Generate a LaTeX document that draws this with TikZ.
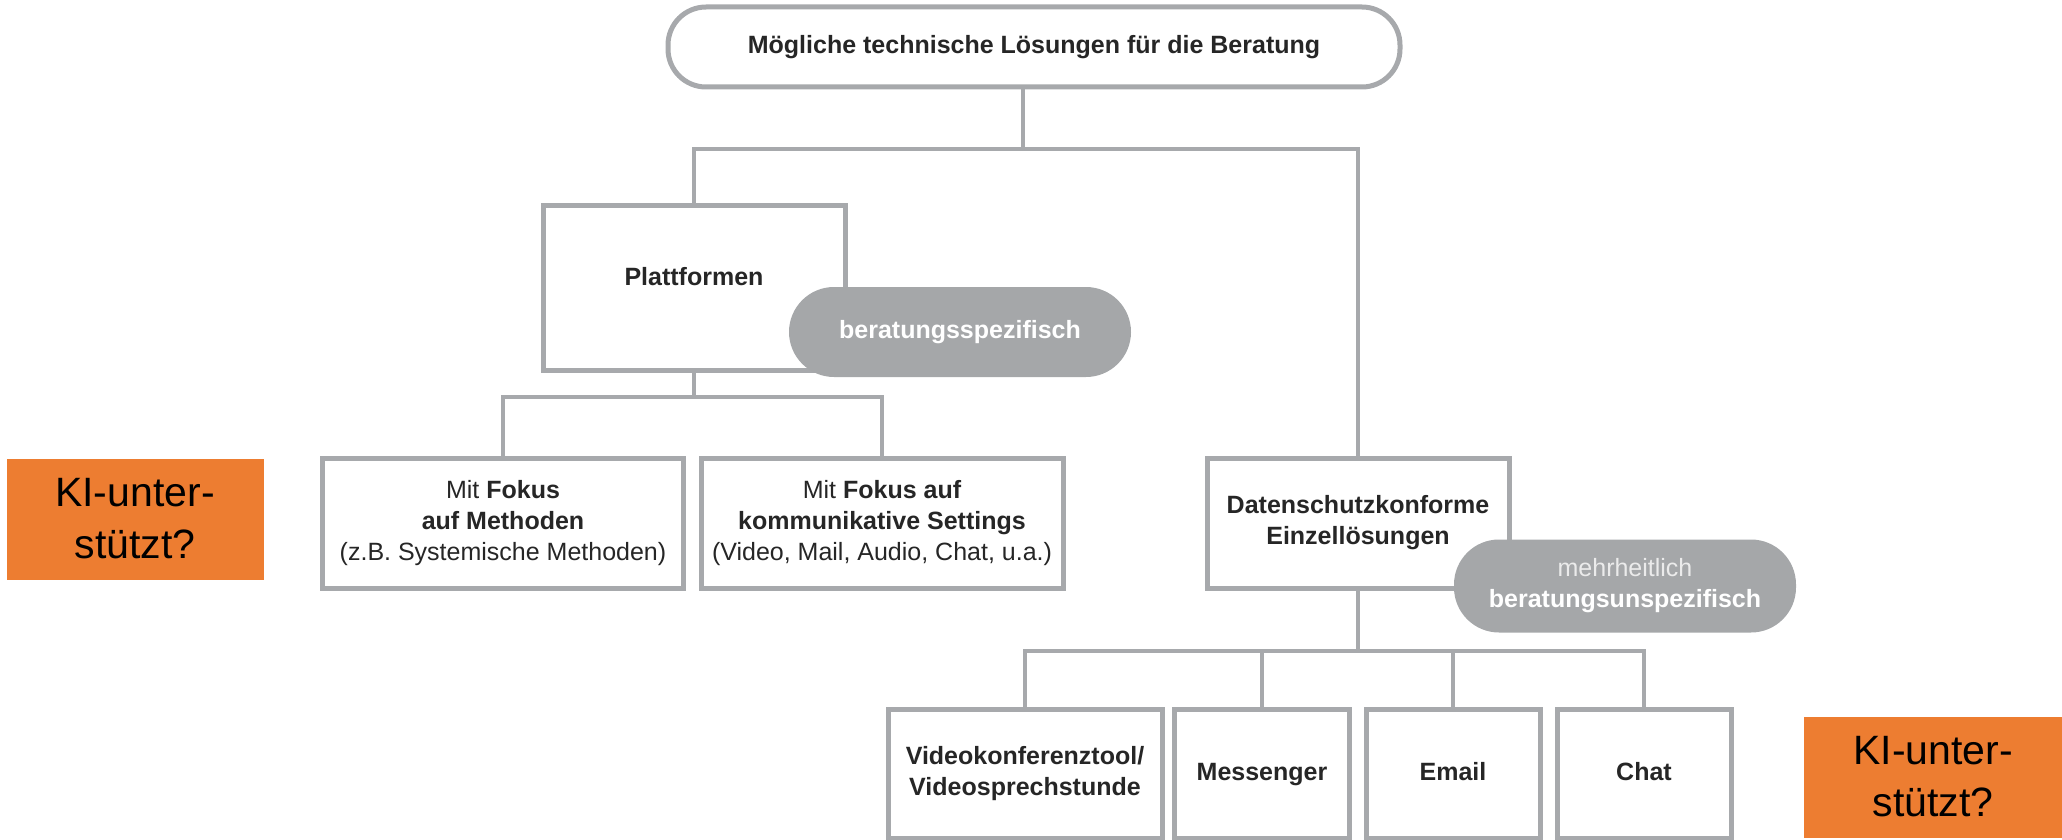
\documentclass[tikz,border=0pt]{standalone}
\usepackage{fontspec}
\setmainfont{Liberation Sans}
\usepackage{tikz}
\usepackage{xcolor}
\definecolor{linegray}{HTML}{A7A9AC}
\definecolor{pillgray}{HTML}{A5A7A9}
\definecolor{kiorange}{HTML}{ED7D31}

\begin{document}
\begin{tikzpicture}[x=1pt, y=-1pt, every node/.style={font=\fontsize{25}{31}\selectfont, align=center, inner sep=0pt, text=black!85},
  box/.style={draw=linegray, line width=5pt, fill=white, rectangle},
  pill/.style={fill=pillgray, rounded corners=45pt, text=white},
  kibox/.style={fill=kiorange, text=black, font=\fontsize{41}{52}\selectfont},
  link/.style={draw=linegray, line width=4.5pt}]
  \useasboundingbox (0,0) rectangle (2062,840);

  % Nodes
  \node[box, rounded corners=38pt, minimum width=732pt, minimum height=80pt] (top) at (1034,47) {\textbf{Mögliche technische Lösungen für die Beratung}};
  \node[box, minimum width=302pt, minimum height=165pt, text height=18pt, text depth=24pt] (platt) at (694,288) {\textbf{Plattformen}};
  \node[box, minimum width=361pt, minimum height=130pt] (meth) at (503,523) {Mit \textbf{Fokus}\\\textbf{auf Methoden}\\(z.B. Systemische Methoden)};
  \node[box, minimum width=362pt, minimum height=130pt] (sett) at (882,523) {Mit \textbf{Fokus auf}\\\textbf{kommunikative Settings}\\(Video, Mail, Audio, Chat, u.a.)};
  \node[box, minimum width=302pt, minimum height=130pt] (daten) at (1358,523) {\textbf{Datenschutzkonforme}\\\textbf{Einzellösungen}};
  \node[box, minimum width=274pt, minimum height=129pt] (video) at (1025,774) {\textbf{Videokonferenztool/}\\\textbf{Videosprechstunde}};
  \node[box, minimum width=175pt, minimum height=129pt, text height=18pt, text depth=5pt] (mess) at (1262,774) {\textbf{Messenger}};
  \node[box, minimum width=174pt, minimum height=129pt, text height=18pt, text depth=5pt] (email) at (1453,774) {\textbf{Email}};
  \node[box, minimum width=174pt, minimum height=129pt, text height=18pt, text depth=5pt] (chat) at (1644,774) {\textbf{Chat}};

  \node[pill, minimum width=342pt, minimum height=90pt] (spez) at (960,332) {\textbf{beratungsspezifisch}};
  \node[pill, minimum width=342pt, minimum height=93pt] (unspez) at (1625,586) {\textcolor{white!92!black}{mehrheitlich}\\\textbf{beratungsunspezifisch}};

  \node[kibox, minimum width=257pt, minimum height=121pt] (kileft) at (135,519) {KI-unter-\\stützt?};
  \node[kibox, minimum width=258pt, minimum height=121pt] (kiright) at (1933,777) {KI-unter-\\stützt?};

  % Lines
  \coordinate (j1) at (1023,149);
  \coordinate (j2) at (694,397);
  \coordinate (j3) at (1358,651);
  \draw[link] (top.south -| j1) -- (j1);
  \draw[link] (platt.north) |- (j1) -| (daten.north);
  \draw[link] (platt.south) -- (j2);
  \draw[link] (meth.north) |- (j2) -| (sett.north);
  \draw[link] (daten.south) -- (j3);
  \draw[link] (video.north) |- (j3) -| (chat.north);
  \draw[link] (mess.north) -- (mess.north |- j3);
  \draw[link] (email.north) -- (email.north |- j3);
\end{tikzpicture}
\end{document}
